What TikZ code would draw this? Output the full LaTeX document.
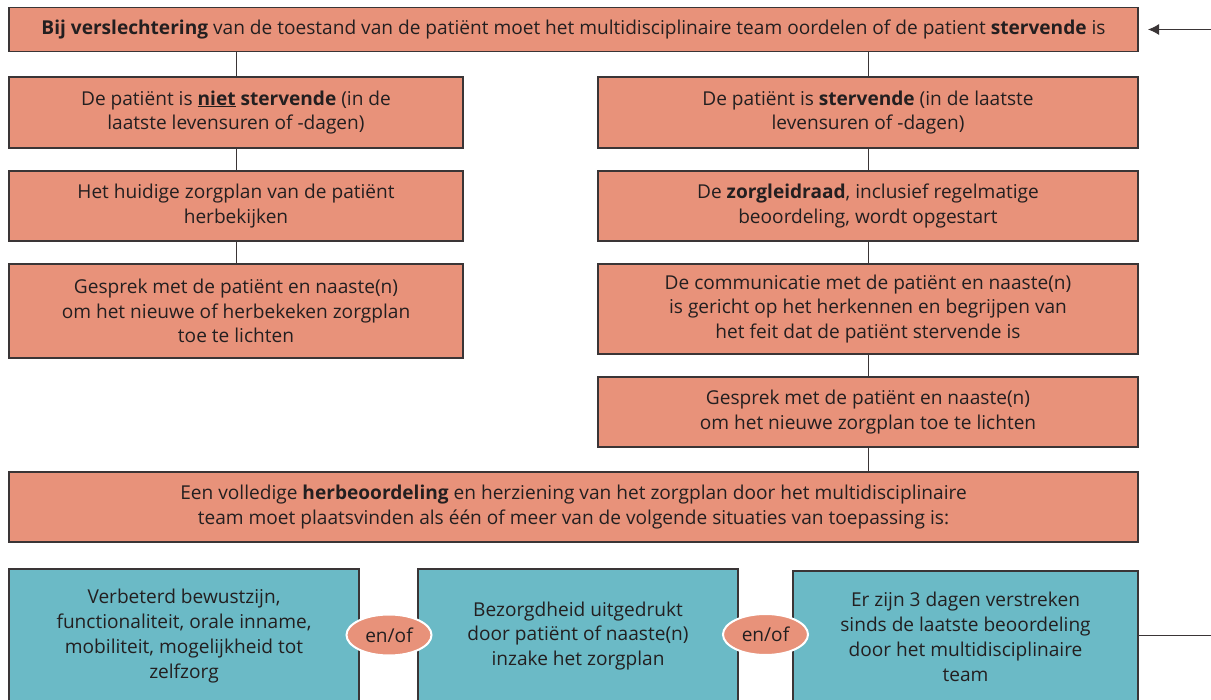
\documentclass[tikz,border=0pt]{standalone}
\usepackage{fontspec}
\setmainfont{Open Sans}
\usetikzlibrary{arrows.meta,shapes.geometric}
\definecolor{salmon}{HTML}{E8927A}
\definecolor{teal2}{HTML}{6BBAC6}
\definecolor{txt}{HTML}{231F20}
\definecolor{edge}{HTML}{3A3536}
\begin{document}
\begin{tikzpicture}[x=1pt,y=-1pt,
  every node/.style={font=\fontsize{19.1}{24.8}\selectfont, text=txt},
  sbox/.style={draw=edge, line width=1.2pt, fill=salmon, align=center, inner sep=0pt},
  tbox/.style={draw=edge, line width=1.2pt, fill=teal2, align=center, inner sep=0pt},
  conn/.style={draw=edge, line width=1pt},
  enof/.style={ellipse, fill=salmon, draw=white, line width=2pt, minimum width=85pt, minimum height=41pt, inner sep=0pt}]
\useasboundingbox (0,0) rectangle (1211,700);
\node[sbox, minimum width=1129pt, minimum height=44pt] (top) at (573.5,29.5) {\textbf{Bij verslechtering} van de toestand van de patiënt moet het multidisciplinaire team oordelen of de patient \textbf{stervende} is};
\node[sbox, minimum width=454pt, minimum height=71pt] (a1) at (236,112.5) {De patiënt is \underline{\textbf{niet}} \textbf{stervende} (in de\\laatste levensuren of -dagen)};
\node[sbox, minimum width=454pt, minimum height=70pt] (a2) at (236,206) {Het huidige zorgplan van de patiënt\\herbekijken};
\node[sbox, minimum width=454pt, minimum height=94pt] (a3) at (236,311) {Gesprek met de patiënt en naaste(n)\\om het nieuwe of herbekeken zorgplan\\toe te lichten};
\node[sbox, minimum width=540pt, minimum height=71pt] (b1) at (868,112.5) {De patiënt is \textbf{stervende} (in de laatste\\levensuren of -dagen)};
\node[sbox, minimum width=540pt, minimum height=70pt] (b2) at (868,206) {De \textbf{zorgleidraad}, inclusief regelmatige\\beoordeling, wordt opgestart};
\node[sbox, minimum width=540pt, minimum height=90pt] (b3) at (868,309) {De communicatie met de patiënt en naaste(n)\\is gericht op het herkennen en begrijpen van\\het feit dat de patiënt stervende is};
\node[sbox, minimum width=540pt, minimum height=70pt] (b4) at (868,412) {Gesprek met de patiënt en naaste(n)\\om het nieuwe zorgplan toe te lichten};
\node[sbox, minimum width=1129pt, minimum height=70pt] (big) at (573.5,507) {Een volledige \textbf{herbeoordeling} en herziening van het zorgplan door het multidisciplinaire\\team moet plaatsvinden als één of meer van de volgende situaties van toepassing is:};
\node[tbox, minimum width=350pt, minimum height=134pt] (c1) at (184,636) {Verbeterd bewustzijn,\\functionaliteit, orale inname,\\mobiliteit, mogelijkheid tot\\zelfzorg};
\node[tbox, minimum width=320pt, minimum height=134pt] (c2) at (578,636) {Bezorgdheid uitgedrukt\\door patiënt of naaste(n)\\inzake het zorgplan};
\node[tbox, minimum width=345pt, minimum height=132pt] (c3) at (965.5,637) {Er zijn 3 dagen verstreken\\sinds de laatste beoordeling\\door het multidisciplinaire\\team};
\node[enof] (e1) at (389,635) {en/of};
\node[enof] (e2) at (765.5,634.5) {en/of};
\coordinate (arrS) at (1211,29.5);
\coordinate (arrT) at (1148,29.5);
\coordinate (lineE) at (1211,635);
\draw[conn] (a1.north |- top.south) -- (a1.north);
\draw[conn] (b1.north |- top.south) -- (b1.north);
\draw[conn] (a1) -- (a2);
\draw[conn] (a2) -- (a3);
\draw[conn] (b1) -- (b2);
\draw[conn] (b2) -- (b3);
\draw[conn] (b3) -- (b4);
\draw[conn] (b4.south) -- (b4.south |- big.north);
\draw[conn, -{Latex[length=11pt,width=11pt]}] (arrS) -- (arrT);
\draw[conn] (c3.east |- lineE) -- (lineE);
\end{tikzpicture}
\end{document}
